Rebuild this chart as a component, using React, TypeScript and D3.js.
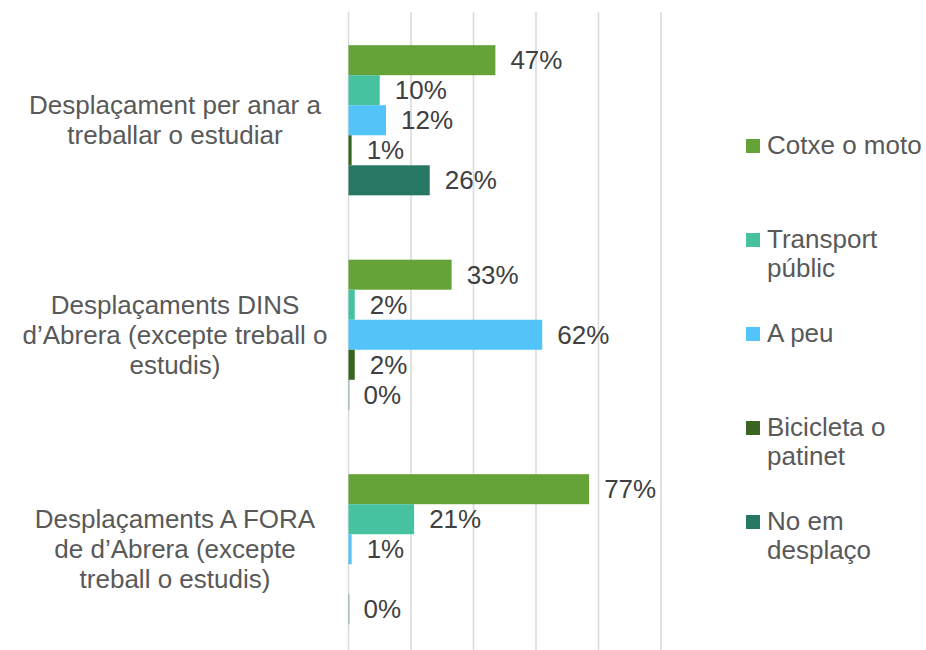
import React, { useEffect, useRef } from "react";
import * as d3 from "d3";

const categories = [
  ["Desplaçament per anar a", "treballar o estudiar"],
  ["Desplaçaments DINS", "d’Abrera (excepte treball o", "estudis)"],
  ["Desplaçaments A FORA", "de d’Abrera (excepte", "treball o estudis)"],
];
const seriesNames = [
  ["Cotxe o moto"],
  ["Transport", "públic"],
  ["A peu"],
  ["Bicicleta o", "patinet"],
  ["No em", "desplaço"],
];
const colors = ["#65A338", "#46C2A1", "#53C4FA", "#3B6422", "#267764"];
// one array per category, in series order (null = no value)
const desplacamentFeina = [0.47, 0.1, 0.12, 0.01, 0.26];
const desplacamentsDins = [0.33, 0.02, 0.62, 0.02, 0.0];
const desplacamentsFora = [0.77, 0.21, 0.01, null, 0.0];
const values = [desplacamentFeina, desplacamentsDins, desplacamentsFora];
const ticks = [0, 0.2, 0.4, 0.6, 0.8, 1];

const width = 926;
const height = 650;
const font = "'Liberation Sans', Arial, sans-serif";

const App = () => {
  const ref = useRef<SVGSVGElement>(null);

  useEffect(() => {
    const svg = d3.select(ref.current);
    svg.selectAll("*").remove();

    const x = d3.scaleLinear().domain([0, 1]).range([348.5, 661]);
    const y0 = d3
      .scaleBand<number>()
      .domain(d3.range(categories.length))
      .range([13, 656.5])
      .paddingInner(0.3)
      .paddingOuter(0.15);
    const y1 = d3
      .scaleBand<number>()
      .domain(d3.range(seriesNames.length))
      .range([0, y0.bandwidth()]);

    //gridlines
    svg
      .append("g")
      .selectAll("line")
      .data(ticks)
      .enter()
      .append("line")
      .attr("x1", (d) => x(d))
      .attr("x2", (d) => x(d))
      .attr("y1", 12)
      .attr("y2", height)
      .attr("stroke", "#D9D9D9")
      .attr("stroke-width", 1.5);

    //bars
    const groups = svg
      .append("g")
      .selectAll("g")
      .data(values)
      .enter()
      .append("g")
      .attr("transform", (d, i) => `translate(0,${y0(i)})`);

    const items = groups
      .selectAll("g")
      .data((d) => d.map((v, j) => ({ v, j })).filter((e) => e.v !== null))
      .enter()
      .append("g");

    items
      .append("rect")
      .attr("x", x(0))
      .attr("y", (d) => y1(d.j)!)
      .attr("width", (d) => Math.max(x(d.v as number) - x(0), 1))
      .attr("height", y1.bandwidth())
      .attr("fill", (d) => colors[d.j])
      .attr("opacity", (d) => (d.v === 0 ? 0.5 : 1));

    items
      .append("text")
      .attr("x", (d) => x(d.v as number) + 15)
      .attr("y", (d) => y1(d.j)! + y1.bandwidth() / 2)
      .attr("dominant-baseline", "central")
      .style("font-family", font)
      .style("font-size", "26px")
      .style("fill", "#404040")
      .text((d) => Math.round((d.v as number) * 100) + "%");

    //category labels
    svg
      .append("g")
      .selectAll("text")
      .data(categories)
      .enter()
      .append("text")
      .attr("text-anchor", "middle")
      .style("font-family", font)
      .style("font-size", "26px")
      .style("fill", "#595959")
      .each(function (lines, i) {
        const cy = y0(i)! + y0.bandwidth() / 2;
        const lh = 30;
        const top = cy - ((lines.length - 1) * lh) / 2;
        d3.select(this)
          .selectAll("tspan")
          .data(lines)
          .enter()
          .append("tspan")
          .attr("x", 175)
          .attr("y", (l, k) => top + k * lh)
          .attr("dominant-baseline", "central")
          .text((l) => l);
      });

    //legend
    const ly = d3
      .scaleLinear()
      .domain([0, seriesNames.length - 1])
      .range([145, 521]);
    const legend = svg
      .append("g")
      .selectAll("g")
      .data(seriesNames)
      .enter()
      .append("g")
      .attr("transform", (d, i) => `translate(0,${ly(i)})`);
    legend
      .append("rect")
      .attr("x", 746)
      .attr("y", -6)
      .attr("width", 14)
      .attr("height", 14)
      .attr("fill", (d, i) => colors[i]);
    legend
      .append("text")
      .style("font-family", font)
      .style("font-size", "26px")
      .style("fill", "#595959")
      .selectAll("tspan")
      .data((d) => d)
      .enter()
      .append("tspan")
      .attr("x", 767)
      .attr("y", (d, k) => k * 29)
      .attr("dominant-baseline", "central")
      .text((d) => d);
  }, []);

  return (
    <div style={{ position: "absolute", left: 0, top: 0 }}>
      <svg ref={ref} width={width} height={height} style={{ display: "block", background: "#fff" }}></svg>
    </div>
  );
};

export default App;
